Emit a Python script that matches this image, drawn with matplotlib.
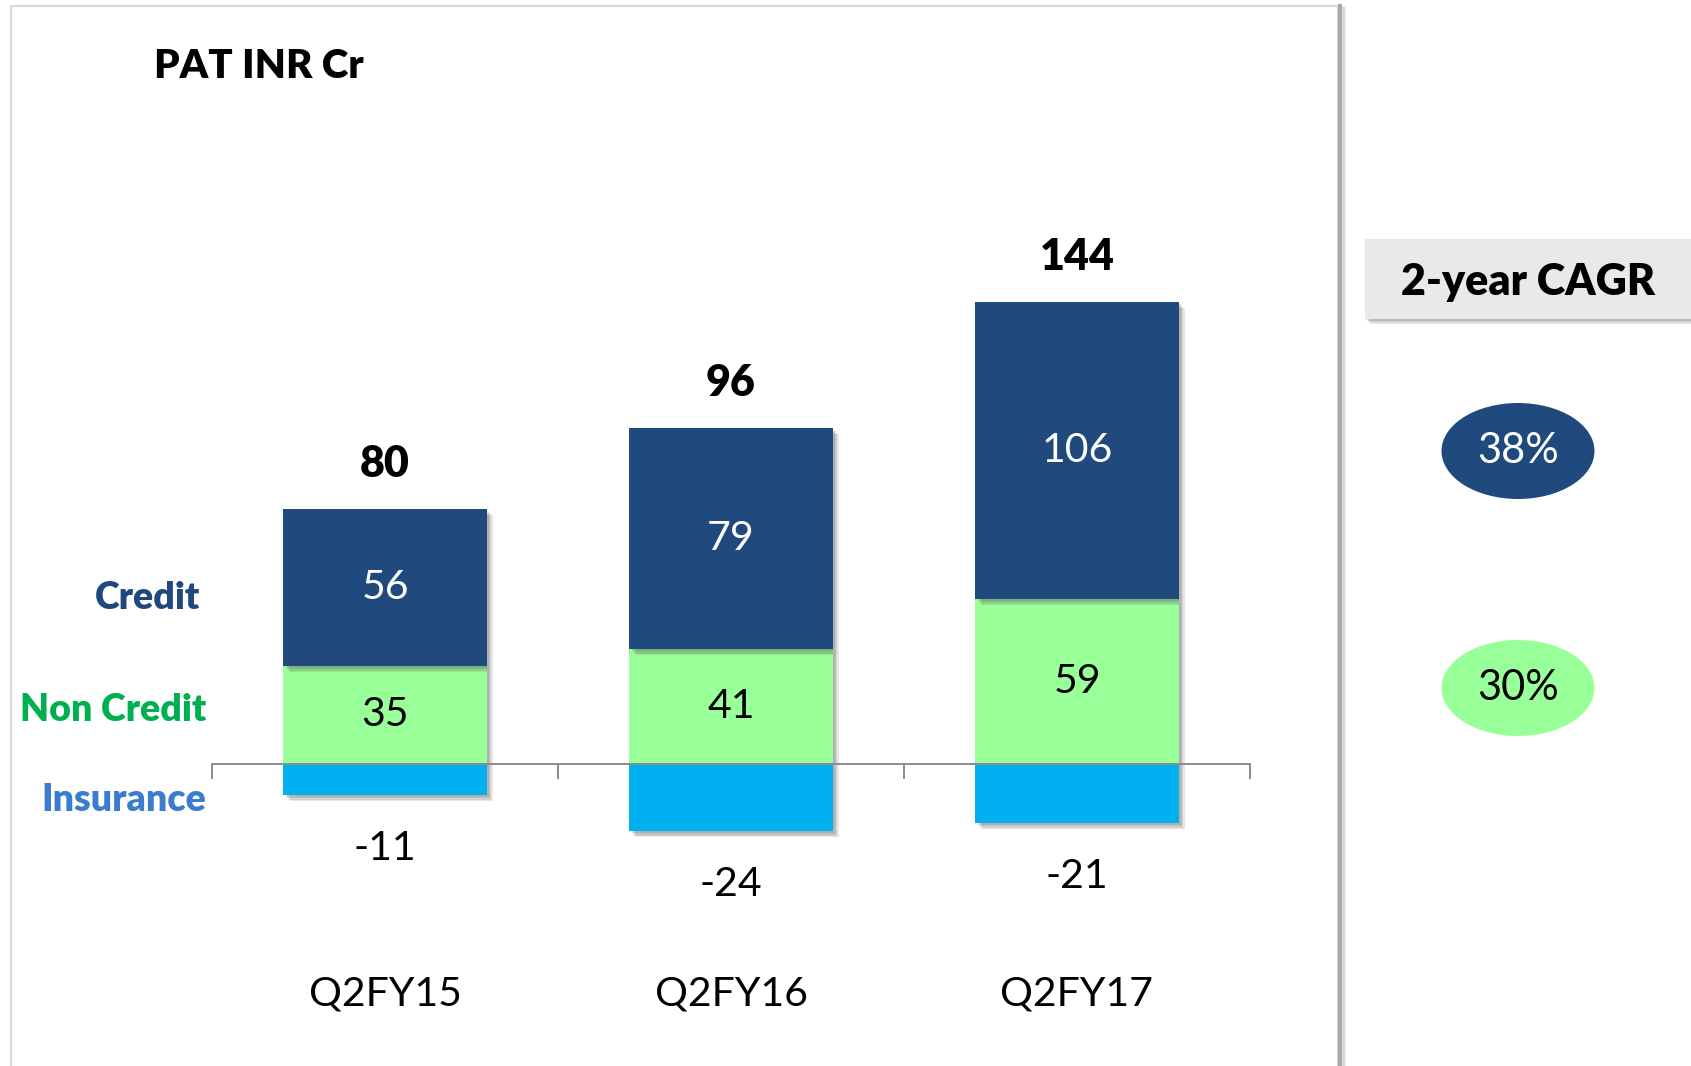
import matplotlib
matplotlib.use('Agg')
import matplotlib.pyplot as plt
import matplotlib.patheffects as pe
from matplotlib.patches import Rectangle, Ellipse
import numpy as np

plt.rcParams['font.family'] = ['Lato', 'DejaVu Sans']

# 数据
categories = ['Q2FY15', 'Q2FY16', 'Q2FY17']
credit = [56, 79, 106]
non_credit = [35, 41, 59]
insurance = [-11, -24, -21]
totals = [80, 96, 144]
cagr_labels = ['38%', '30%']

c_credit = '#204a7d'
c_noncredit = '#99ff99'
c_ins = '#00b0f0'

W, H = 1691, 1066
fig = plt.figure(figsize=(W / 100, H / 100), dpi=100)

# 面板边框
fig.patches.append(Rectangle((11 / W, -0.05), (1338 - 11) / W, 1.05 - 6 / H,
                             transform=fig.transFigure, fill=False,
                             ec='#d9d9d9', lw=1.6, zorder=0))
fig.add_artist(plt.Line2D([1340 / W, 1340 / W], [0, 1 - 6 / H], transform=fig.transFigure,
                          color='#a8a8a8', lw=3))
fig.add_artist(plt.Line2D([1343 / W, 1343 / W], [0, 1 - 8 / H], transform=fig.transFigure,
                          color='#d6d6d6', lw=2.5))

# 主图
px = 2.8  # 每单位像素
zero_y = 764
ax = fig.add_axes([212 / W, 0, 1038 / W, 1])
ax.set_xlim(-0.5, 2.5)
ax.set_ylim(-(H - zero_y) / px, zero_y / px)
ax.patch.set_visible(False)

x = np.arange(len(categories))
w = 0.587
# 柔和阴影
shadow = [pe.SimplePatchShadow(offset=(o, -o), shadow_rgbFace='#666666', alpha=0.16)
          for o in (4.5, 3.5, 2.5, 1.5)] + [pe.Normal()]
b1 = ax.bar(x, non_credit, width=w, color=c_noncredit, zorder=2)
b2 = ax.bar(x, credit, width=w, bottom=non_credit, color=c_credit, zorder=2)
b3 = ax.bar(x, insurance, width=w, color=c_ins, zorder=2)
for bars in (b1, b2, b3):
    for b in bars:
        b.set_path_effects(shadow)

for i in range(len(categories)):
    ax.text(x[i], non_credit[i] / 2, str(non_credit[i]), ha='center', va='center',
            fontsize=29.5, color='black', zorder=4)
    ax.text(x[i], non_credit[i] + credit[i] / 2, str(credit[i]), ha='center', va='center',
            fontsize=29.5, color='white', zorder=4)
    ax.text(x[i], insurance[i] - 19, str(insurance[i]), ha='center', va='center',
            fontsize=29.5, color='black')
    ax.text(x[i], non_credit[i] + credit[i] + 16, str(totals[i]), ha='center', va='center',
            fontsize=31, fontweight='heavy', color='black')
    ax.text(x[i], -82, categories[i], ha='center', va='center', fontsize=29.5, color='black')

# 坐标轴
for s in ['top', 'right', 'left']:
    ax.spines[s].set_visible(False)
ax.spines['bottom'].set_position(('data', 0))
ax.spines['bottom'].set_color('#8c8c8c')
ax.spines['bottom'].set_linewidth(1.4)
ax.spines['bottom'].set_zorder(3)
ax.set_xticks(np.arange(-0.5, len(categories), 1.0))
ax.set_xticklabels([])
ax.tick_params(axis='x', direction='out', length=11, width=1.4, color='#8c8c8c')
ax.set_yticks([])

# 标题和系列名称
fig.text(154 / W, 1 - 67 / H, 'PAT INR Cr', fontsize=29, fontweight='heavy', va='center')
fig.text(200 / W, 1 - 598 / H, 'Credit', fontsize=27, fontweight='heavy', color='#1f497d',
         ha='right', va='center')
fig.text(206 / W, 1 - 710 / H, 'Non Credit', fontsize=27, fontweight='heavy', color='#00b050',
         ha='right', va='center')
fig.text(206 / W, 1 - 800 / H, 'Insurance', fontsize=27, fontweight='heavy', color='#3a7dcf',
         ha='right', va='center')

# 右侧 CAGR
box = Rectangle((1365 / W, 1 - 319 / H), (W - 1365) / W, 80 / H, transform=fig.transFigure,
                fc='#e9e9e9', ec='none')
box.set_path_effects([pe.SimplePatchShadow(offset=(o, -o), shadow_rgbFace='#666666', alpha=0.18)
                      for o in (3.5, 2.5, 1.5)] + [pe.Normal()])
fig.patches.append(box)
fig.text(1528 / W, 1 - 282 / H, '2-year CAGR', fontsize=31, fontweight='heavy',
         ha='center', va='center')

for lab, cy, fc, tc in zip(cagr_labels, [451, 688], [c_credit, c_noncredit], ['white', 'black']):
    fig.patches.append(Ellipse((1518 / W, 1 - cy / H), 153 / W, 96 / H,
                               transform=fig.transFigure, fc=fc, ec='none'))
    fig.text(1518 / W, 1 - cy / H, lab, fontsize=30, color=tc, ha='center', va='center')

plt.savefig('out.png', dpi=100)
